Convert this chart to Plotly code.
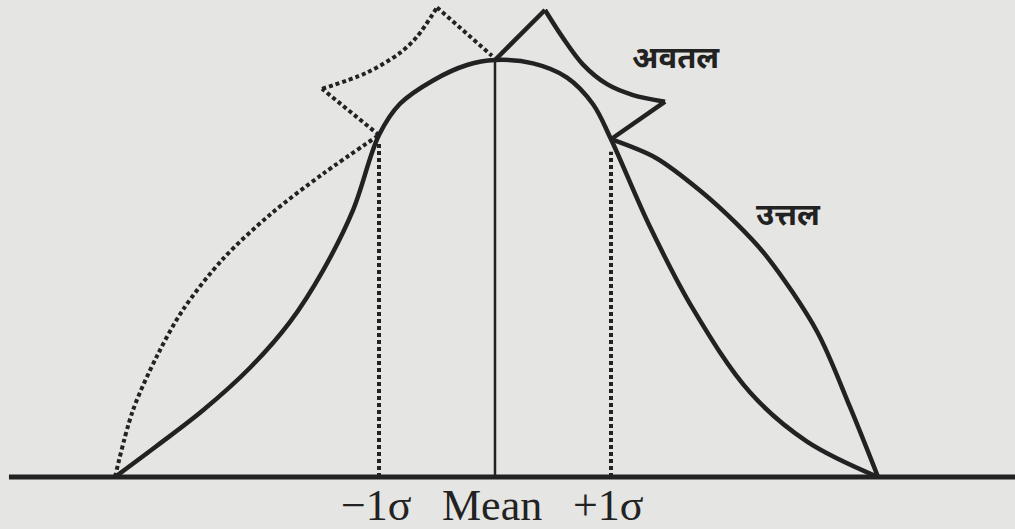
import plotly.graph_objects as go

# Horizontal positions are in standard-deviation units (Mean = 0),
# heights are relative to the peak of the normal curve (peak = 1).

# Normal (mesokurtic) curve
normal_x = [-3.276, -2.914, -2.517, -2.112, -1.767, -1.483, -1.224, -1.0, -0.819, -0.534, -0.241,
            0.0, 0.328, 0.621, 0.845, 1.0, 1.336, 1.707, 2.198, 2.690, 3.302]
normal_y = [0.0, 0.075, 0.160, 0.262, 0.372, 0.495, 0.640, 0.820, 0.895, 0.951, 0.988,
            1.0, 0.992, 0.958, 0.894, 0.810, 0.600, 0.403, 0.203, 0.085, 0.0]

# Peaked outline (अवतल) and the bulging right side (उत्तल)
peaked_x = [0.0, 0.431, 0.586, 0.759, 0.966, 1.190, 1.466, 1.0,
            1.388, 1.767, 2.080, 2.345, 2.776, 3.060, 3.302]
peaked_y = [1.0, 1.120, 1.053, 0.989, 0.942, 0.916, 0.900, 0.810,
            0.765, 0.687, 0.608, 0.528, 0.349, 0.168, 0.0]
peaked_corners = [1, 6, 7]

# Dotted comparison outline on the left
dotted_x = [-3.276, -3.121, -2.914, -2.690, -2.345, -1.940, -1.483, -1.0,
            -1.491, -1.103, -0.819, -0.672, -0.5, -0.026]
dotted_y = [0.0, 0.160, 0.290, 0.401, 0.523, 0.629, 0.727, 0.820,
            0.931, 0.970, 1.017, 1.056, 1.126, 1.010]
dotted_corners = [7, 8, 12]

# Marked positions along the base line
marker_x = [-1, 0, 1]
marker_top = [0.80, 1.0, 0.78]
marker_labels = ["\u22121\u03c3", "Mean", "+1\u03c3"]

curve_labels = ["अवतल", "उत्तल"]

INK = "#222222"
PAPER = "#e5e5e3"


def split_runs(xs, ys, corners):
    """Break a path into pieces at sharp corners so each piece is smoothed on its own."""
    cuts = [0] + list(corners) + [len(xs) - 1]
    return [(xs[a:b + 1], ys[a:b + 1]) for a, b in zip(cuts[:-1], cuts[1:])]


fig = go.Figure()

# base line
fig.add_trace(go.Scatter(x=[-4.19, 4.6], y=[0, 0], mode="lines",
                         line=dict(color=INK, width=5)))

# vertical at the mean and dotted verticals at one sigma either side
for mx, top in zip(marker_x, marker_top):
    if mx == 0:
        style = dict(color=INK, width=2.5)
    else:
        style = dict(color=INK, width=4, dash="4px,3px")
    fig.add_trace(go.Scatter(x=[mx, mx], y=[0, top], mode="lines", line=style))

# normal curve
fig.add_trace(go.Scatter(x=normal_x, y=normal_y, mode="lines",
                         line=dict(color=INK, width=4.5, shape="spline", smoothing=1.0)))

# peaked outline
for xs, ys in split_runs(peaked_x, peaked_y, peaked_corners):
    fig.add_trace(go.Scatter(x=xs, y=ys, mode="lines",
                             line=dict(color=INK, width=4.5, shape="spline", smoothing=0.9)))

# dotted outline
for xs, ys in split_runs(dotted_x, dotted_y, dotted_corners):
    fig.add_trace(go.Scatter(x=xs, y=ys, mode="lines",
                             line=dict(color=INK, width=4, dash="4px,3px",
                                       shape="spline", smoothing=0.9)))

# labels under the base line
for mx, lab in zip(marker_x, marker_labels):
    fig.add_annotation(x=mx, y=-0.068, text=lab, showarrow=False,
                       xanchor="center", yanchor="middle", xshift=-3,
                       font=dict(family="Liberation Serif, Times New Roman, serif",
                                 size=44, color=INK))

# curve names
fig.add_annotation(x=1.56, y=1.0, text=curve_labels[0], showarrow=False,
                   xanchor="center", yanchor="middle",
                   font=dict(family="Noto Sans Devanagari, Noto Sans, sans-serif",
                             size=31, color=INK, weight="bold"))
fig.add_annotation(x=2.53, y=0.622, text=curve_labels[1], showarrow=False,
                   xanchor="center", yanchor="middle",
                   font=dict(family="Noto Sans Devanagari, Noto Sans, sans-serif",
                             size=31, color=INK, weight="bold"))

fig.update_layout(
    width=1015, height=529,
    margin=dict(l=0, r=0, t=0, b=0),
    paper_bgcolor=PAPER, plot_bgcolor=PAPER,
    showlegend=False,
    xaxis=dict(range=[-4.2672, 4.4828], visible=False, fixedrange=True),
    yaxis=dict(range=[-0.1247, 1.1439], visible=False, fixedrange=True),
)

fig.write_html("out.html")
